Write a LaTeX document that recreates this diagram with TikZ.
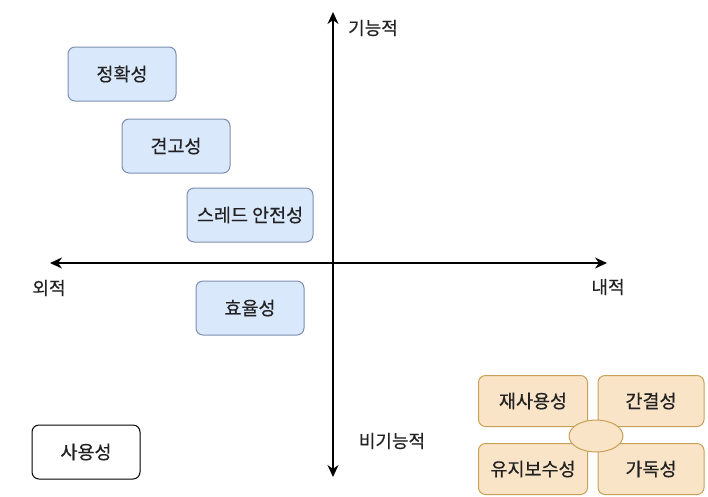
\documentclass[tikz,border=0pt]{standalone}
\usepackage{fontspec}
\setmainfont{Noto Sans CJK KR}[FakeBold=0.4]
\usetikzlibrary{arrows.meta,shapes.geometric}
\definecolor{bluefill}{HTML}{DAE8FC}
\definecolor{blueline}{HTML}{7D8FAF}
\definecolor{orangefill}{HTML}{F9E4C8}
\definecolor{orangeline}{HTML}{C9A055}
\definecolor{txt}{HTML}{222222}
\tikzset{
  every node/.style={text=txt},
  qbox/.style={draw=blueline,fill=bluefill,rounded corners=7pt,line width=1pt,
    minimum width=108pt,minimum height=54pt,inner sep=0pt,font=\fontsize{18.5}{21}\selectfont},
  plainbox/.style={draw=black,fill=white,rounded corners=7pt,line width=1pt,
    minimum width=108pt,minimum height=54pt,inner sep=0pt,font=\fontsize{18.5}{21}\selectfont},
  obox/.style={draw=orangeline,fill=orangefill,rounded corners=7pt,line width=1pt,
    minimum width=109pt,minimum height=51pt,inner sep=0pt,font=\fontsize{18.5}{21}\selectfont},
  axis/.style={line width=1.3pt,{Stealth[length=12pt,width=11pt]}-{Stealth[length=12pt,width=11pt]}},
  lbl/.style={inner sep=0pt,font=\fontsize{18}{21}\selectfont}
}
\begin{document}
\begin{tikzpicture}[x=1pt,y=-1pt]
\useasboundingbox (0,0) rectangle (708,496);
\clip (0,0) rectangle (708,496);
\coordinate (top) at (333,12);
\coordinate (bot) at (333,477);
\coordinate (lft) at (50,263);
\coordinate (rgt) at (607,263);
\draw[axis] (bot) -- (top);
\draw[axis] (lft) -- (rgt);
\node[lbl] (func) at (373,28) {기능적};
\node[lbl] (nonfunc) at (392,441) {비기능적};
\node[lbl] (ext) at (49,288) {외적};
\node[lbl] (int) at (608,287) {내적};
\node[qbox] (acc) at (122,74) {정확성};
\node[qbox] (rob) at (176,146) {견고성};
\node[qbox,minimum width=126pt] (thr) at (250,215) {스레드 안전성};
\node[qbox] (eff) at (250,308) {효율성};
\node[plainbox] (use) at (86,452) {사용성};
\node[obox] (reu) at (533,401) {재사용성};
\node[obox,minimum width=106pt] (con) at (651,401) {간결성};
\node[obox] (mai) at (533,469) {유지보수성};
\node[obox,minimum width=106pt] (rea) at (651,469) {가독성};
\node[ellipse,draw=orangeline,fill=orangefill,line width=1pt,minimum width=54pt,minimum height=32pt,inner sep=0pt] (hub) at (596,436) {};
\end{tikzpicture}
\end{document}
